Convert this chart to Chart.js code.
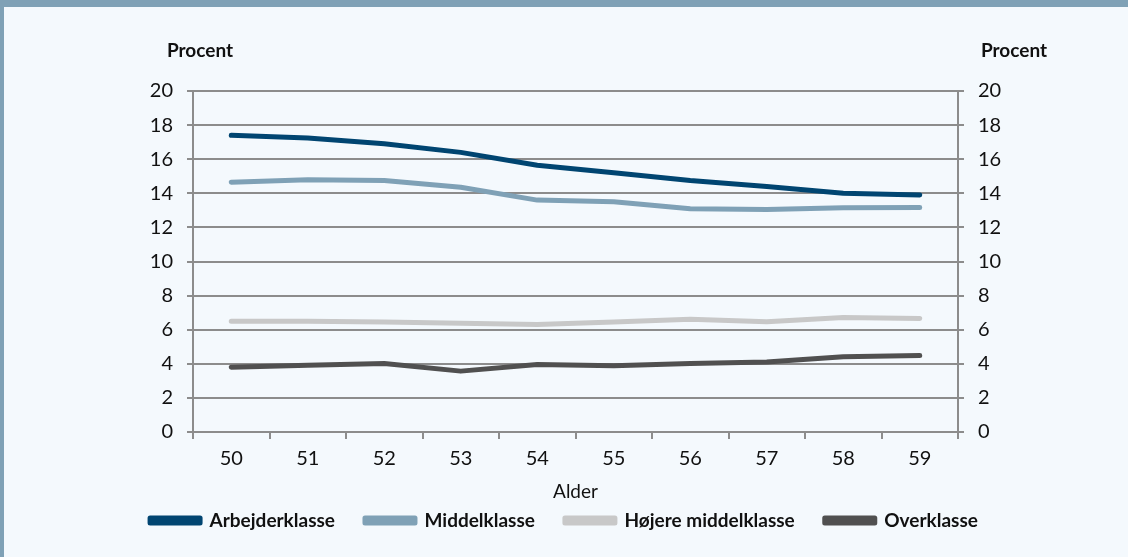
<!DOCTYPE html>
<html>
<head>
<meta charset="utf-8">
<script src="https://cdn.jsdelivr.net/npm/chart.js@4.4.1/dist/chart.umd.min.js"></script>
<style>
  html, body { margin: 0; padding: 0; background: #f4f9fd; }
  #wrap { position: relative; width: 1128px; height: 557px; overflow: hidden; background: #f4f9fd; }
  #topbar { position: absolute; left: 0; top: 0; width: 1128px; height: 7px; background: #7fa1b6; }
  #leftbar { position: absolute; left: 0; top: 0; width: 4px; height: 557px; background: #7fa1b6; }
  canvas { position: absolute; left: 0; top: 0; }
</style>
</head>
<body>
<div id="wrap">
  <canvas id="chart" width="1128" height="557"></canvas>
  <div id="topbar"></div>
  <div id="leftbar"></div>
</div>
<script>
// Data
const ages = ['50', '51', '52', '53', '54', '55', '56', '57', '58', '59'];
const arbejderklasse = [17.4, 17.25, 16.9, 16.4, 15.65, 15.2, 14.75, 14.4, 14.0, 13.9];
const middelklasse = [14.65, 14.8, 14.75, 14.35, 13.6, 13.5, 13.1, 13.05, 13.15, 13.17];
const hoejereMiddelklasse = [6.5, 6.5, 6.45, 6.38, 6.3, 6.45, 6.62, 6.47, 6.72, 6.66];
const overklasse = [3.8, 3.92, 4.02, 3.57, 3.96, 3.88, 4.02, 4.1, 4.42, 4.48];

const FONT = 'Lato, "Open Sans", sans-serif';
const GRID = '#8c8c8c';
const TEXT = '#111';

// Draws the two bold "Procent" headings above the value axes
const procentTitles = {
    id: 'procentTitles',
    afterDraw(chart) {
        const ctx = chart.ctx;
        const area = chart.chartArea;
        ctx.save();
        ctx.font = 'bold 19px ' + FONT;
        ctx.fillStyle = TEXT;
        ctx.textAlign = 'center';
        ctx.textBaseline = 'middle';
        ctx.fillText('Procent', area.left + 7, 51);
        ctx.fillText('Procent', area.right + 56, 51);
        ctx.restore();
    }
};

function line(label, data, color) {
    return {
        label: label,
        data: data,
        borderColor: color,
        backgroundColor: color,
        borderWidth: 5,
        borderCapStyle: 'round',
        borderJoinStyle: 'round',
        pointRadius: 0,
        tension: 0,
        fill: false
    };
}

new Chart(document.getElementById('chart'), {
    type: 'line',
    data: {
        labels: ages,
        datasets: [
            line('Arbejderklasse', arbejderklasse, '#004571'),
            line('Middelklasse', middelklasse, '#7fa1b6'),
            line('Højere middelklasse', hoejereMiddelklasse, '#c8c8c8'),
            line('Overklasse', overklasse, '#505050')
        ]
    },
    options: {
        responsive: false,
        animation: false,
        layout: { padding: { left: 100, right: 100, top: 91, bottom: 17 } },
        plugins: {
            tooltip: { enabled: false },
            legend: {
                position: 'bottom',
                labels: {
                    boxWidth: 50,
                    boxHeight: 5,
                    padding: 30,
                    color: TEXT,
                    font: { family: FONT, size: 19, weight: 'bold' }
                }
            }
        },
        scales: {
            x: {
                offset: true,
                grid: {
                    offset: true,
                    drawOnChartArea: false,
                    drawTicks: true,
                    tickLength: 7,
                    color: GRID,
                    lineWidth: 2
                },
                border: { color: GRID, width: 2 },
                ticks: { color: TEXT, padding: 8, font: { family: FONT, size: 20 } },
                title: {
                    display: true,
                    text: 'Alder',
                    color: TEXT,
                    padding: { top: 4, bottom: -22 },
                    font: { family: FONT, size: 19 }
                },
                afterFit(scale) { scale.height = 49; }
            },
            y: {
                position: 'left',
                min: 0,
                max: 20,
                ticks: { stepSize: 2, color: TEXT, padding: 14, font: { family: FONT, size: 20 } },
                grid: { color: GRID, lineWidth: 2, tickLength: 6 },
                border: { color: GRID, width: 2 },
                afterFit(scale) { scale.width = 93; }
            },
            y2: {
                position: 'right',
                min: 0,
                max: 20,
                ticks: { stepSize: 2, color: TEXT, padding: 14, font: { family: FONT, size: 20 } },
                grid: { drawOnChartArea: false, color: GRID, lineWidth: 2, tickLength: 6 },
                border: { color: GRID, width: 2 },
                afterFit(scale) { scale.width = 70; }
            }
        }
    },
    plugins: [procentTitles]
});
</script>
</body>
</html>
